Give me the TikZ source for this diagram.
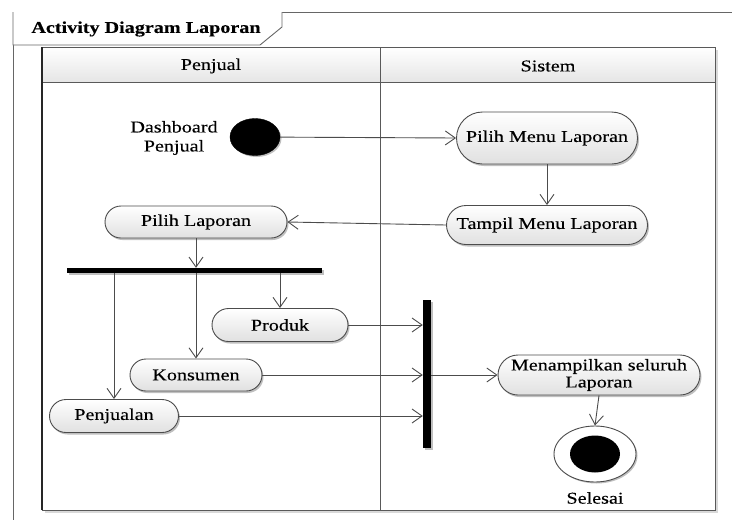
\documentclass[tikz,border=0pt]{standalone}
\usepackage{fontspec}
\setmainfont{Liberation Serif}[FakeStretch=1.22,FakeBold=0.25]
\usetikzlibrary{arrows.meta,shadows,shapes.geometric}
\tikzset{
  lineclr/.style={draw=black!70},
  act/.style={rectangle, lineclr, line width=0.9pt, top color=white, bottom color=black!12,
    inner sep=0pt, align=center, font=\fontsize{16.5}{18}\selectfont,
    drop shadow={shadow xshift=1.5pt, shadow yshift=-2pt, opacity=0.25, fill=black}},
  arr/.style={black!70, line width=0.9pt, -{Straight Barb[length=10pt,width=14pt,line width=0.9pt]}},
  bar/.style={rectangle, fill=black, draw=none, inner sep=0pt,
    drop shadow={shadow xshift=1.5pt, shadow yshift=-1.5pt, opacity=0.25, fill=black}},
  lbl/.style={font=\fontsize{16.5}{19}\selectfont, align=center, inner sep=0pt},
  hdr/.style={font=\fontsize{16.5}{19}\selectfont, inner sep=0pt}
}
\begin{document}
\begin{tikzpicture}[x=1pt,y=-1pt]
\useasboundingbox (0,0) rectangle (732,520);
% outer frame
\draw[black!60, line width=0.9pt] (732,12) -- (13,12) -- (13,520);
\draw[black!60, line width=0.9pt, fill=white] (13,12) -- (13,45) -- (260,45) -- (282,27) -- (282,12);
\node[font=\bfseries\fontsize{16.5}{19}\selectfont, inner sep=0pt] (title) at (146,29) {Activity Diagram Laporan};
% swimlanes
\fill[black!15] (45,50) rectangle (718,513);
\fill[white] (42,47) rectangle (715,510);
\shade[top color=white, bottom color=black!10] (42,47) rectangle (715,82);
\draw[black!65, line width=0.9pt] (42,47) rectangle (715,510);
\draw[black!65, line width=0.9pt] (42,82) -- (715,82);
\draw[black!65, line width=0.9pt] (380,47) -- (380,510);
\draw[black!85, line width=1.6pt] (42,47) -- (42,510);
\node[hdr] (lane1) at (211,66) {Penjual};
\node[hdr] (lane2) at (548,66) {Sistem};
% nodes
\node[ellipse, fill=black, draw=black, minimum width=50pt, minimum height=37pt, inner sep=0pt,
  drop shadow={shadow xshift=1.5pt, shadow yshift=-1.5pt, opacity=0.25, fill=black}] (init) at (255,137) {};
\node[lbl] (dlabel) at (174,138) {Dashboard\\Penjual};
\node[act, minimum width=181pt, minimum height=52pt, rounded corners=26pt] (pmenu) at (547,138) {Pilih Menu Laporan};
\node[act, minimum width=201pt, minimum height=39pt, rounded corners=19.5pt] (tmenu) at (547,225) {Tampil Menu Laporan};
\node[act, minimum width=182pt, minimum height=32pt, rounded corners=16pt] (plap) at (196,222) {Pilih Laporan};
\node[bar, minimum width=255pt, minimum height=5pt] (fork) at (194.5,270.5) {};
\node[act, minimum width=136pt, minimum height=33pt, rounded corners=16.5pt] (produk) at (280,325) {Produk};
\node[act, minimum width=132pt, minimum height=32pt, rounded corners=16pt] (kons) at (196,375) {Konsumen};
\node[act, minimum width=129pt, minimum height=33pt, rounded corners=16.5pt] (penj) at (114,416) {Penjualan};
\node[bar, minimum width=8pt, minimum height=148pt] (join) at (427,374) {};
\node[act, minimum width=202pt, minimum height=40pt, rounded corners=20pt, font=\fontsize{16.5}{17}\selectfont] (menam) at (599,375) {Menampilkan seluruh\\Laporan};
\node[ellipse, draw=black!70, line width=0.9pt, fill=white, minimum width=82pt, minimum height=56pt, inner sep=0pt,
  drop shadow={shadow xshift=1.5pt, shadow yshift=-1.5pt, opacity=0.25, fill=black}] (final) at (595,454) {};
\node[ellipse, fill=black, minimum width=50pt, minimum height=37pt, inner sep=0pt] (finalin) at (595,454) {};
\node[lbl] (slabel) at (595,498) {Selesai};
% connectors
\draw[arr] (init) -- (pmenu.west);
\draw[arr] (pmenu) -- (tmenu);
\draw[arr] (tmenu.west) -- (plap.east);
\draw[arr] (plap.south) -- (plap.south |- fork.north);
\draw[arr] (fork.south -| penj.north) -- (penj.north);
\draw[arr] (fork.south -| kons.north) -- (kons.north);
\draw[arr] (fork.south -| produk.north) -- (produk.north);
\draw[arr] (produk.east) -- (produk.east -| join.west);
\draw[arr] (kons.east) -- (kons.east -| join.west);
\draw[arr] (penj.east) -- (penj.east -| join.west);
\draw[arr] (join.east |- menam.west) -- (menam.west);
\draw[arr] (menam.south) -- (final.north);
\end{tikzpicture}
\end{document}
